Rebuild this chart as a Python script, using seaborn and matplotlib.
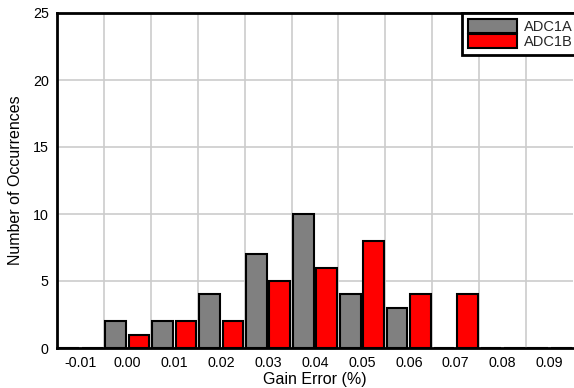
import matplotlib
matplotlib.use("Agg")
import matplotlib.pyplot as plt
import seaborn as sns
import pandas as pd

categories = ["-0.01", "0.00", "0.01", "0.02", "0.03", "0.04", "0.05", "0.06", "0.07", "0.08", "0.09"]
adc1a = [0, 2, 2, 4, 7, 10, 4, 3, 0, 0, 0]
adc1b = [0, 1, 2, 2, 5, 6, 8, 4, 4, 0, 0]
series_names = ["ADC1A", "ADC1B"]
colors = ["#808080", "#ff0000"]

df = pd.DataFrame({
    "cat": categories * 2,
    "count": adc1a + adc1b,
    "series": [series_names[0]] * len(categories) + [series_names[1]] * len(categories),
})

sns.set_theme(style="white")
plt.rcParams["font.family"] = ["Liberation Sans", "DejaVu Sans"]

fig = plt.figure(figsize=(5.74, 3.88), dpi=100)
ax = fig.add_axes([57 / 574, 40 / 388, 516 / 574, 335 / 388])

sns.barplot(data=df, x="cat", y="count", hue="series", order=categories,
            hue_order=series_names, palette=colors, width=1.0, gap=0.12,
            edgecolor="black", linewidth=1.5, saturation=1, ax=ax, zorder=3)

ax.set_xlim(-0.5, 10.5)
ax.set_ylim(0, 25)
ax.set_yticks([0, 5, 10, 15, 20, 25])
ax.set_xticks(range(len(categories)))
ax.set_xticklabels(categories)
ax.set_xticks([i + 0.5 for i in range(-1, 10)], minor=True)
ax.grid(False)
ax.grid(True, which="minor", axis="x", color="#cccccc", linewidth=1.2, zorder=0)
ax.grid(True, which="major", axis="y", color="#cccccc", linewidth=1.2, zorder=0)
ax.set_axisbelow(True)
ax.tick_params(axis="both", which="both", length=0, labelsize=10.3, pad=6, colors="black")

for side in ["left", "bottom", "top"]:
    ax.spines[side].set_visible(True)
    ax.spines[side].set_color("black")
    ax.spines[side].set_linewidth(2)
ax.spines["right"].set_visible(False)

ax.set_xlabel("Gain Error (%)", fontsize=11.5, labelpad=1, color="black")
ax.set_ylabel("Number of Occurrences", fontsize=11.5, labelpad=7, color="black")

leg = ax.legend(loc="upper left", bbox_to_anchor=((462 - 57) / 516, 1.0), fancybox=False,
                edgecolor="black", framealpha=1,
                handlelength=3.4, handleheight=1.1, labelspacing=0.0, fontsize=10.5,
                borderaxespad=0.0, handletextpad=0.45, borderpad=0.4, title=None)
leg.get_frame().set_linewidth(2)

fig.savefig("out.png", dpi=100)
